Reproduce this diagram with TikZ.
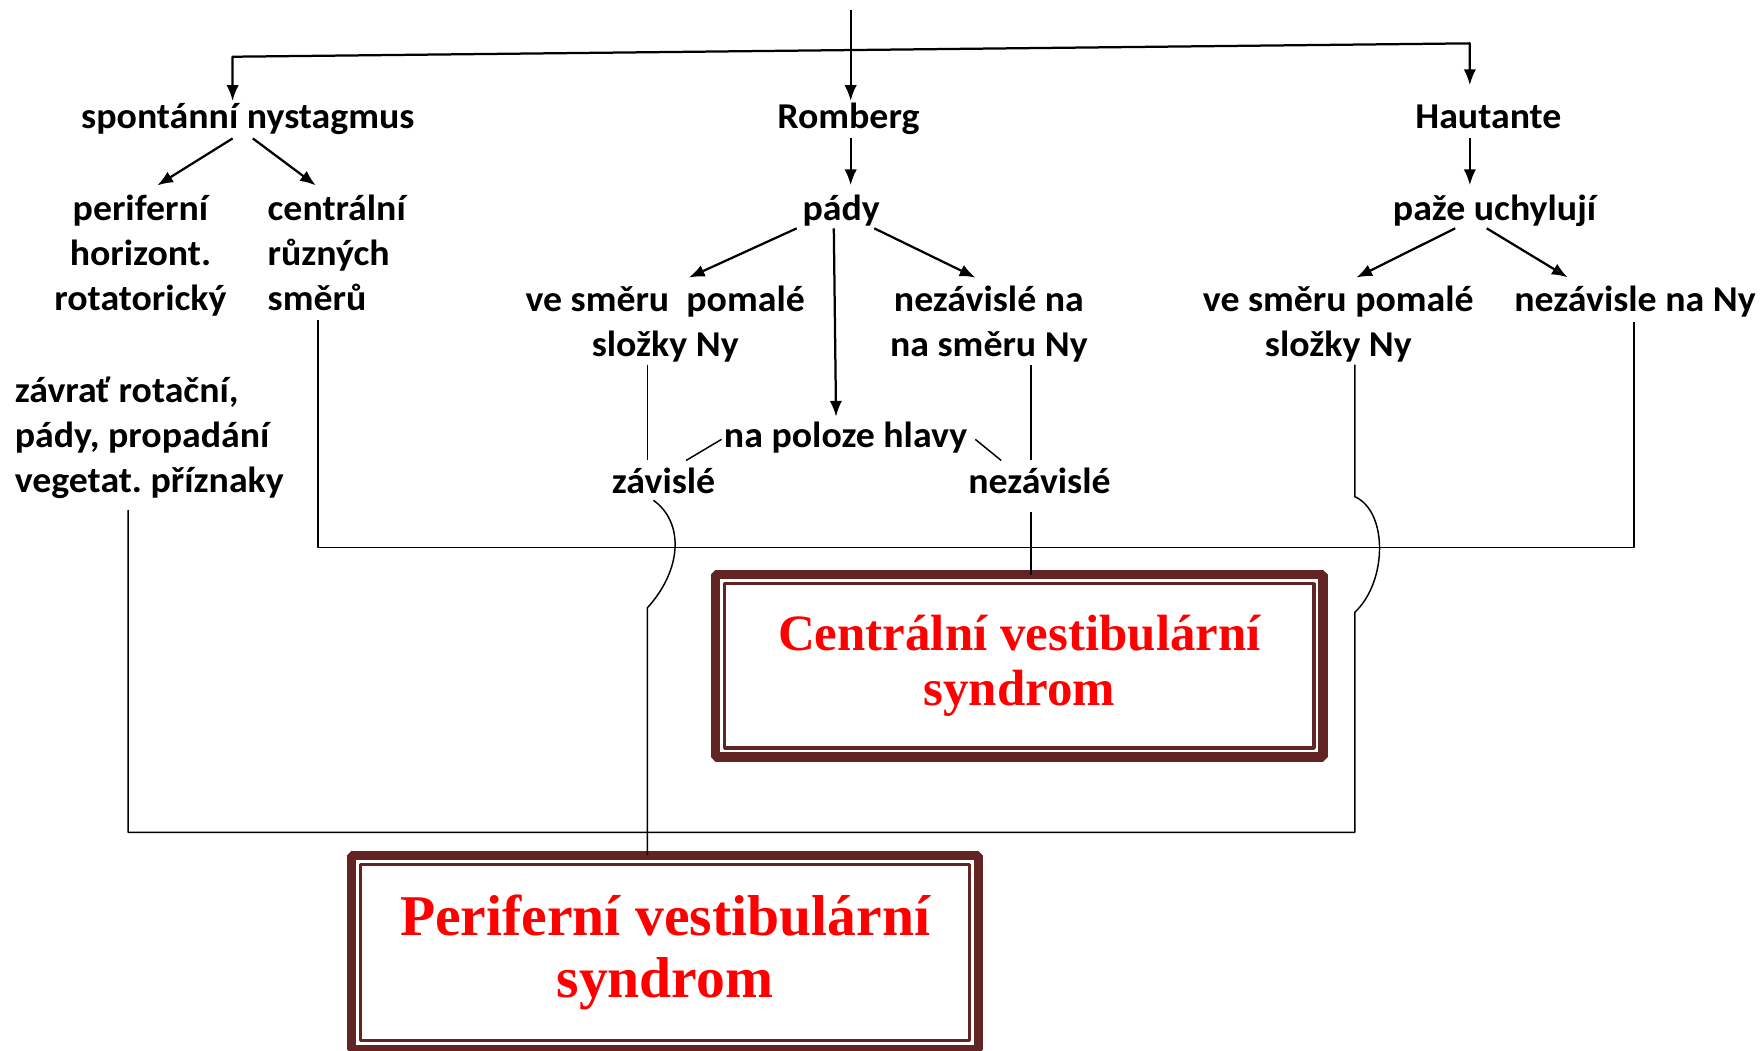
\documentclass[tikz,border=0pt]{standalone}
\usepackage{fontspec}
\setmainfont{Carlito}[FakeStretch=1.04]
\newfontfamily\synfont{Liberation Serif}
\usetikzlibrary{arrows.meta}
\frenchspacing
\definecolor{synbrown}{RGB}{99,37,35}
\definecolor{synred}{RGB}{255,0,0}
\tikzset{
  lbl/.style={inner sep=2bp,text height=22bp,text depth=7bp,font=\bfseries\fontsize{32.5}{40.5}\selectfont},
  lblm/.style={inner sep=2bp,font=\bfseries\fontsize{32.5}{40.5}\selectfont},
  arr/.style={black,line width=2bp,->},
  link/.style={black,line width=1.3bp},
  synbox/.style={draw=synbrown,line width=8.3bp,outer sep=0pt,inner sep=0pt,align=center,text=synred},
  synline/.style={draw=synbrown,line width=3bp},
}
\begin{document}
\begin{tikzpicture}[>={Latex[length=14bp,width=11bp]},line join=bevel,]
\useasboundingbox (0bp,0bp) rectangle (1568bp,935bp);
%%
\node (spont) at (220.5bp,821bp) [lbl,anchor=base] {spontánní nystagmus};
  \node (romberg) at (755bp,821bp) [lbl,anchor=base] {Romberg};
  \node (hautante) at (1324.5bp,821bp) [lbl,anchor=base] {Hautante};
  \node (perif) at (125bp,764bp) [lblm,anchor=north,align=center] {periferní\\horizont.\\rotatorický};
  \node (centr) at (236bp,764bp) [lblm,anchor=north west,align=left] {centrální\\různých\\směrů};
  \node (pady) at (748.5bp,739bp) [lbl,anchor=base] {pády};
  \node (paze) at (1330bp,739bp) [lbl,anchor=base] {paže uchylují};
  \node (ve_smeru_l) at (592bp,683bp) [lblm,anchor=north,align=center] {ve směru\ \ pomalé\\složky Ny};
  \node (nezav_na) at (880bp,683bp) [lblm,anchor=north,align=center] {nezávislé na\\na směru Ny};
  \node (ve_smeru_r) at (1191bp,683bp) [lblm,anchor=north,align=center] {ve směru pomalé\\složky Ny};
  \node (nezav_ny) at (1455bp,658bp) [lbl,anchor=base] {nezávisle na Ny};
  \node (zavrat) at (11bp,602bp) [lblm,anchor=north west,align=left] {závrať rotační,\\pády, propadání\\vegetat. příznaky};
  \node (na_poloze) at (752.5bp,536.5bp) [lbl,anchor=base] {na poloze hlavy};
  \node (zavisle) at (590.5bp,496bp) [lbl,anchor=base] {závislé};
  \node (nezavisle) at (925bp,496bp) [lbl,anchor=base] {nezávislé};
  \node (box_c) at (907.2bp,342.5bp) [synbox,minimum width=540.4bp,minimum height=162.1bp,font=\synfont\bfseries\fontsize{45.5}{48.9}\selectfont] {Centrální vestibulární\\syndrom};
  \node (box_p) at (591.8bp,87.35bp) [synbox,minimum width=557.8bp,minimum height=173bp,font=\synfont\bfseries\fontsize{51.5}{54.9}\selectfont] {Periferní vestibulární\\syndrom};
  \draw [synline] ([shift={(8bp,8bp)}]box_c.south west) rectangle ([shift={(-8bp,-8bp)}]box_c.north east);
  \draw [synline] ([shift={(8bp,8bp)}]box_p.south west) rectangle ([shift={(-8bp,-8bp)}]box_p.north east);
%
\coordinate (top) at (757bp,926bp);
  \coordinate (bar_l) at (207bp,884.5bp);
  \coordinate (bar_r) at (1308bp,896.4bp);
  \coordinate (cj_l) at (283bp,447.6bp);
  \coordinate (cj_m) at (917.3bp,447.6bp);
  \coordinate (cj_r) at (1454bp,447.6bp);
  \coordinate (pj_l) at (114bp,194.3bp);
  \coordinate (pj_r) at (1205.6bp,194.3bp);
  \coordinate (hop_l) at (576bp,394bp);
  \coordinate (hop_r1) at (1205.6bp,390bp);
  \coordinate (hop_r2) at (1205.6bp,493bp);
%
\draw [arr] (top) -- (top |- romberg.north);
  \draw [arr,<->,shorten >=14bp] (spont.north -| bar_l) -- (bar_l) -- (bar_r) -- (hautante.north -| bar_r);
  \draw [arr,shorten >=7bp] (romberg.south -| top) -- (pady.north -| top);
  \draw [arr,shorten >=7bp] (hautante.south -| bar_r) -- (paze.north -| bar_r);
  \draw [arr] ([xshift=-13.5bp]spont.south) -- ([xshift=15bp,yshift=6bp]perif.north);
  \draw [arr] ([xshift=4.5bp]spont.south) -- ([xshift=45bp,yshift=6bp]centr.north west);
  \draw [arr] ([xshift=-39.5bp,yshift=2bp]pady.south) -- ([xshift=21bp,yshift=5bp]ve_smeru_l.north);
  \draw [arr] ([xshift=29.5bp,yshift=2bp]pady.south) -- ([xshift=-12bp,yshift=5bp]nezav_na.north);
  \draw [arr] ([xshift=-6.5bp,yshift=2bp]pady.south) -- ([xshift=-8.5bp,yshift=3.5bp]na_poloze.north);
  \draw [arr] ([xshift=-35bp,yshift=2bp]paze.south) -- ([xshift=16bp,yshift=5bp]ve_smeru_r.north);
  \draw [arr] ([xshift=-7bp,yshift=2bp]paze.south) -- ([xshift=-60bp,yshift=6bp]nezav_ny.north);
%
\draw [link,shorten <=6bp] (centr.south west -| cj_l) -- (cj_l) -- (cj_r) -- (nezav_ny.south -| cj_r);
  \draw [link,shorten <=7.6bp] (zavrat.south -| pj_l) -- (pj_l) -- (pj_r) -- (hop_r1) .. controls (1235bp,418bp) and (1235bp,480bp) .. (hop_r2) -- (ve_smeru_r.south -| pj_r);
  \draw [link,shorten >=5.5bp] (ve_smeru_l.south -| hop_l) -- (zavisle.north -| hop_l);
  \draw [link] ([xshift=-9bp,yshift=3bp]zavisle.south) .. controls (609bp,470bp) and (607bp,428bp) .. (hop_l) -- (hop_l |- box_p.north);
  \draw [link,shorten >=5.5bp] (nezav_na.south -| cj_m) -- (nezavisle.north -| cj_m);
  \draw [link,shorten <=7.6bp] (nezavisle.south -| cj_m) -- (box_c.north -| cj_m);
  \draw [link] (na_poloze.west) -- ([xshift=20bp,yshift=5bp]zavisle.north);
  \draw [link] ([xshift=5bp]na_poloze.east) -- ([xshift=-34bp,yshift=5bp]nezavisle.north);
%
\end{tikzpicture}
\end{document}
